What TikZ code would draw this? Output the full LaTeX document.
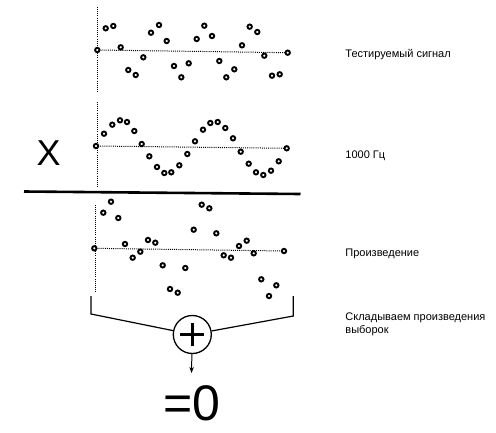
\documentclass[tikz,border=0pt]{standalone}
\usepackage{fontspec}
\setmainfont{Liberation Sans}
\usetikzlibrary{arrows.meta}

\begin{document}
\begin{tikzpicture}[x=1pt, y=-1pt, thick, >=Stealth]
        \tikzset{
            smp/.style={circle, draw, fill=white, line width=1.9pt, inner sep=0pt, minimum size=4.4pt},
            axis/.style={line width=1pt, dash pattern=on 1pt off 1.1pt},
            lbl/.style={anchor=base west, font=\fontsize{11}{12.5}\selectfont, align=left},
        }
        \useasboundingbox (0,0) rectangle (496,432);

        % тестируемый сигнал
        \coordinate (axA1) at (97.3,7);
        \coordinate (axA2) at (97.3,92);
        \draw[axis] (axA1) -- (axA2);
        \foreach \x/\y [count=\i] in {97.3/50, 105.7/28.3, 113.3/26, 120.7/47.3, 128.3/70, 135.7/75,
            143.3/57.3, 151/32.7, 159/25, 166.7/41, 174/66, 181.3/77.3, 188.7/63.3, 196.7/39,
            204.3/25.7, 212/36, 219.3/61, 226.3/77.3, 234.3/69.3, 242/45.3, 249.7/26.7,
            257.3/32, 264.3/55.7, 272/75.7, 279.7/74.3, 287.7/52.7}
            \coordinate (a\i) at (\x,\y);
        \draw[axis] (a1) -- (a26);
        \foreach \i in {1,...,26}
            \node[smp] (ta\i) at (a\i) {};
        \node[lbl] (lblA) at (341.7,57.3) {Тестируемый сигнал};

        % опорный сигнал 1000 Гц
        \coordinate (axB1) at (97.3,102);
        \coordinate (axB2) at (97.3,187);
        \draw[axis] (axB1) -- (axB2);
        \foreach \x/\y [count=\i] in {96/146, 104/133.7, 112.3/124.7, 120/120.3, 127/122, 134.3/131,
            141.7/144, 149.3/156.3, 157/167, 164.3/173, 171.3/172.3, 179.3/165.3, 187.3/154,
            195/141.3, 203/129.7, 210.3/123, 217.7/122, 225.3/128, 233/138.3, 240.7/151.7,
            248.7/163.7, 256/172.3, 263.3/175, 271/170.7, 278.7/161.3, 286.7/148.3}
            \coordinate (b\i) at (\x,\y);
        \draw[axis] (b1) -- (b26);
        \foreach \i in {1,...,26}
            \node[smp] (tb\i) at (b\i) {};
        \node[lbl] (lblB) at (341.7,158.5) {1000 Гц};

        % знак умножения и черта
        \node[font=\fontsize{36}{36}\selectfont] (mul) at (48.7,153) {X};
        \coordinate (barL) at (24,191.5);
        \coordinate (barR) at (300.5,194);
        \draw[line width=2.6pt] (barL) -- (barR);

        % произведение
        \coordinate (axC1) at (95,205);
        \coordinate (axC2) at (95,292);
        \draw[axis] (axC1) -- (axC2);
        \foreach \x/\y [count=\i] in {94.3/248.3, 103.3/212.7, 111/201.7, 118.3/218, 125/244, 132.7/257.7,
            140.3/251.7, 148/240, 155.3/242.7, 162.7/265.3, 170/289, 177.7/292.7, 185.3/268,
            193.7/229.7, 201.7/204.7, 209.3/208.3, 216.3/233.3, 223.7/255.3, 231/257.7, 239/246,
            246.7/240.7, 253.7/253.3, 261.3/279.3, 269/296, 276.3/285.3, 284/251}
            \coordinate (c\i) at (\x,\y);
        \draw[axis] (c1) -- (c26);
        \foreach \i in {1,...,26}
            \node[smp] (tc\i) at (c\i) {};
        \node[lbl] (lblC) at (341.7,256.5) {Произведение};

        % сумматор
        \node[circle, draw, line width=1.3pt, minimum size=38pt, inner sep=0pt] (sum) at (192.3,334.5) {};
        \draw[line width=3pt] ([xshift=-12pt]sum.center) -- ([xshift=12pt]sum.center);
        \draw[line width=3pt] ([yshift=-11.5pt]sum.center) -- ([yshift=11.5pt]sum.center);
        \coordinate (brL1) at (91,296);
        \coordinate (brL2) at (91,314);
        \coordinate (brR1) at (293.3,296);
        \coordinate (brR2) at (293.3,316);
        \draw[line width=1.2pt] (brL1) -- (brL2) -- (sum);
        \draw[line width=1.2pt] (brR1) -- (brR2) -- (sum);
        \node[lbl] (lblD) at (341.7,333) {Складываем произведения\\выборок};

        % результат
        \coordinate (res) at (191.5,373);
        \draw[->, line width=1pt, -{Stealth[length=6pt, width=4.5pt]}] (sum) -- (res);
        \node[anchor=base, font=\fontsize{50}{50}\selectfont] (zero) at (191.7,420) {=0};
\end{tikzpicture}
\end{document}
